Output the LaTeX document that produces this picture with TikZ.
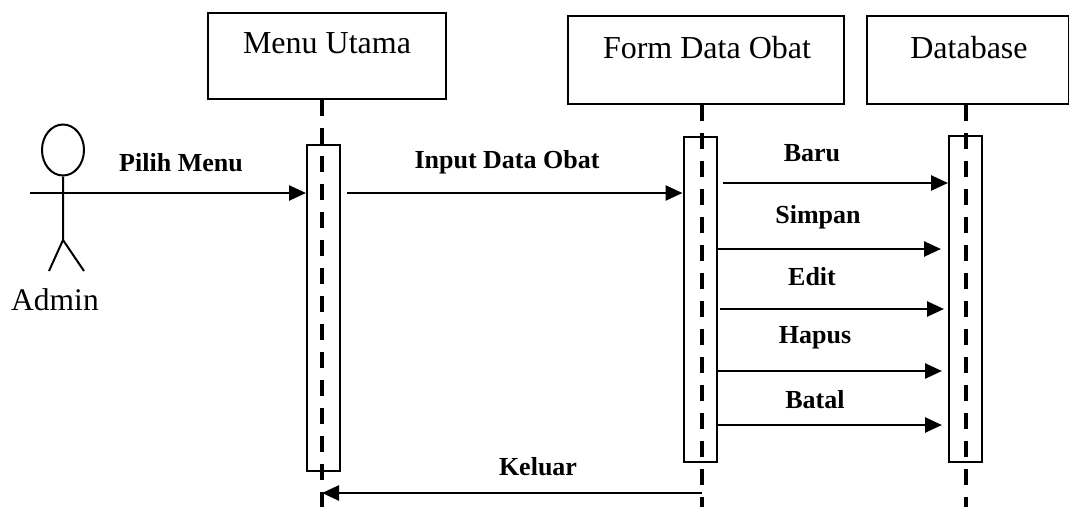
\documentclass[tikz,border=0pt]{standalone}
\usepackage{fontspec}
\setmainfont{Liberation Serif}
\usetikzlibrary{arrows.meta,shapes.geometric}

\tikzset{
	head/.style={draw,line width=2.2pt,minimum width=#1,minimum height=88pt,inner sep=0pt},
	htext/.style={anchor=base,font=\fontsize{32}{34}\selectfont},
	act/.style={draw,line width=2pt,minimum width=33pt,inner sep=0pt},
	life/.style={line width=4pt,dash pattern=on 16pt off 12pt},
	msg/.style={line width=2.6pt,-{Triangle[length=17pt,width=15pt]}},
	lbl/.style={font=\fontsize{26}{28}\selectfont\bfseries}
}

\begin{document}
\begin{tikzpicture}[x=1pt,y=-1pt]
	\useasboundingbox (0,0) rectangle (1069,507);
	% actor
	\node[draw,ellipse,line width=2pt,minimum width=42pt,minimum height=51pt,inner sep=0pt] (admhead) at (63,150){};
	\coordinate (arm) at (98,193);
	\draw[line width=2pt] (admhead.south) -- (63,240) -- (49,271);
	\draw[line width=2pt] (63,240) -- (84,271);
	\draw[line width=2pt] (30,193) -- (arm);
	\node[anchor=base,font=\fontsize{31.5}{34}\selectfont] (adm) at (55,310){Admin};
	% objects
	\node[head=238pt,minimum height=86pt] (menu) at (327,56){};
	\node[head=276pt] (form) at (706,60){};
	\node[head=202pt] (db) at (968,60){};
	\node[htext] at (327,53){Menu Utama};
	\node[htext] at (707,58){Form Data Obat};
	\node[htext] at (969,58){Database};
	% lifelines
	\coordinate (menuend) at (322,507);
	\coordinate (formend) at (702,507);
	\coordinate (dbend) at (966,507);
	\draw[life] (menuend |- menu.south) -- (menuend);
	\draw[life] (formend |- form.south) -- (formend);
	\draw[life] (dbend |- db.south) -- (dbend);
	% activations
	\node[act,minimum height=326pt] (menuact) at (323.5,308){};
	\node[act,minimum height=325pt] (formact) at (700,299.5){};
	\node[act,minimum height=326pt] (dbact) at (965.5,299){};
	% messages
	\draw[msg] (arm) -- (menuact.west |- arm);
	\node[lbl] at (181,163){Pilih Menu};
	\draw[msg] ([xshift=6pt]menuact.east |- 0,193) -- (formact.west |- 0,193);
	\node[lbl] at (507,162){Input Data Obat};
	\draw[msg] ([xshift=5pt]formact.east |- 0,183) -- (dbact.west |- 0,183);
	\node[lbl] at (812,153){Baru};
	\draw[msg] (formact.east |- 0,249) -- ([xshift=-7pt]dbact.west |- 0,249);
	\node[lbl] at (818,217){Simpan};
	\draw[msg] ([xshift=2pt]formact.east |- 0,309) -- ([xshift=-4pt]dbact.west |- 0,309);
	\node[lbl] at (812,277){Edit};
	\draw[msg] (formact.east |- 0,371) -- ([xshift=-6pt]dbact.west |- 0,371);
	\node[lbl] at (815,338){Hapus};
	\draw[msg] (formact.east |- 0,425) -- ([xshift=-6pt]dbact.west |- 0,425);
	\node[lbl] at (815,400){Batal};
	\draw[msg] (formend |- 0,493) -- (menuend |- 0,493);
	\node[lbl] at (538,467){Keluar};
\end{tikzpicture}
\end{document}
